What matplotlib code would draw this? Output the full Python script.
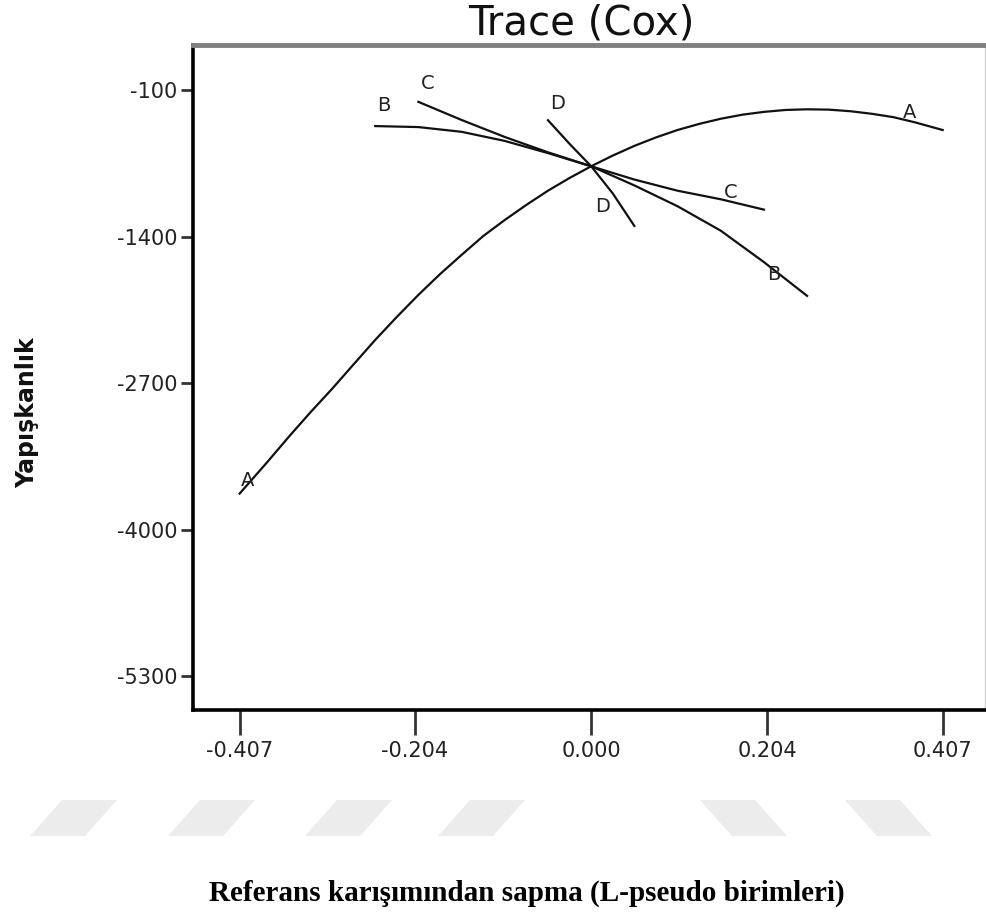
import matplotlib
matplotlib.use("Agg")
import matplotlib.pyplot as plt
from matplotlib.patches import Polygon

plt.rcParams['font.family'] = ['DejaVu Sans']

# trace curves, values
a_x = [-0.407, -0.375, -0.35, -0.325, -0.30, -0.275, -0.25, -0.225, -0.20, -0.175,
       -0.15, -0.125, -0.10, -0.075, -0.05, -0.025, 0.0, 0.025, 0.05, 0.075,
       0.10, 0.125, 0.15, 0.175, 0.20, 0.225, 0.25, 0.275, 0.30, 0.325,
       0.35, 0.375, 0.407]
a_y = [-3680, -3400, -3175, -2958, -2750, -2532, -2315, -2111, -1915, -1731,
       -1560, -1393, -1250, -1116, -990, -877, -773, -678, -592, -517,
       -451, -397, -351, -315, -290, -273, -267, -270, -284, -307,
       -337, -383, -451]

b_x = [-0.25, -0.20, -0.15, -0.10, -0.05, 0.0, 0.05, 0.10, 0.15, 0.20, 0.25]
b_y = [-416, -425, -467, -548, -656, -773, -943, -1128, -1345, -1624, -1924]

c_x = [-0.20, -0.15, -0.10, -0.05, 0.0, 0.05, 0.10, 0.15, 0.20]
c_y = [-201, -362, -513, -649, -773, -891, -990, -1066, -1158]

d_x = [-0.05, -0.025, 0.0, 0.025, 0.05]
d_y = [-364, -574, -773, -1014, -1303]

lab_text = ['A', 'A', 'B', 'B', 'C', 'C', 'D', 'D']
lab_x = [-0.398, 0.369, -0.240, 0.211, -0.189, 0.162, -0.039, 0.013]
lab_y = [-3560, -293, -232, -1737, -38, -1005, -214, -1128]

x_ticks = [-0.407, -0.204, 0.0, 0.204, 0.407]
x_labels = ['-0.407', '-0.204', '0.000', '0.204', '0.407']
y_ticks = [-100, -1400, -2700, -4000, -5300]
y_labels = ['-100', '-1400', '-2700', '-4000', '-5300']

fig = plt.figure(figsize=(9.87, 9.21), dpi=100)
ax = fig.add_axes([193 / 987, 1 - 710 / 921, 792 / 987, 665 / 921])

for xs, ys in [(a_x, a_y), (b_x, b_y), (c_x, c_y), (d_x, d_y)]:
    ax.plot(xs, ys, color='#111111', lw=1.6)

for t, x, y in zip(lab_text, lab_x, lab_y):
    ax.text(x, y, t, fontsize=14, ha='center', va='center', color='#222222')

ax.set_xlim(-0.461, 0.456)
ax.set_ylim(-5602, 304)
ax.set_xticks(x_ticks)
ax.set_xticklabels(x_labels)
ax.set_yticks(y_ticks)
ax.set_yticklabels(y_labels)
ax.tick_params(axis='x', length=18, width=2, pad=4, labelsize=15, color='#333333', labelcolor='#222222')
ax.tick_params(axis='y', length=9, width=2, pad=2, labelsize=15, color='#333333', labelcolor='#222222')

ax.spines['top'].set_color('#808080')
ax.spines['top'].set_linewidth(3.5)
ax.spines['left'].set_linewidth(2.6)
ax.spines['bottom'].set_linewidth(2.6)
ax.spines['right'].set_color('#d0d0d0')
ax.spines['right'].set_linewidth(1)

fig.text(581 / 987, 1 - 23 / 921, 'Trace (Cox)', fontsize=29, ha='center', va='center', color='#111111')
fig.text(27 / 987, 1 - 413 / 921, 'Yapışkanlık', fontsize=17, fontweight='bold', rotation=90,
         ha='center', va='center', color='#111111')
fig.text(527 / 987, 1 - 893 / 921, 'Referans karışımından sapma (L-pseudo birimleri)',
         family='Liberation Serif', fontsize=21, fontweight='bold', ha='center', va='center')

# faint watermark stripes under the axis
for x0, lean in [(30, 1), (168, 1), (305, 1), (438, 1), (700, -1), (845, -1)]:
    if lean > 0:
        pts = [(x0, 836), (x0 + 55, 836), (x0 + 87, 800), (x0 + 32, 800)]
    else:
        pts = [(x0, 800), (x0 + 55, 800), (x0 + 87, 836), (x0 + 32, 836)]
    pts = [(px / 987, 1 - py / 921) for px, py in pts]
    fig.add_artist(Polygon(pts, closed=True, transform=fig.transFigure,
                           facecolor='#ececec', edgecolor='none', zorder=0))

fig.savefig('out.png', dpi=100)
